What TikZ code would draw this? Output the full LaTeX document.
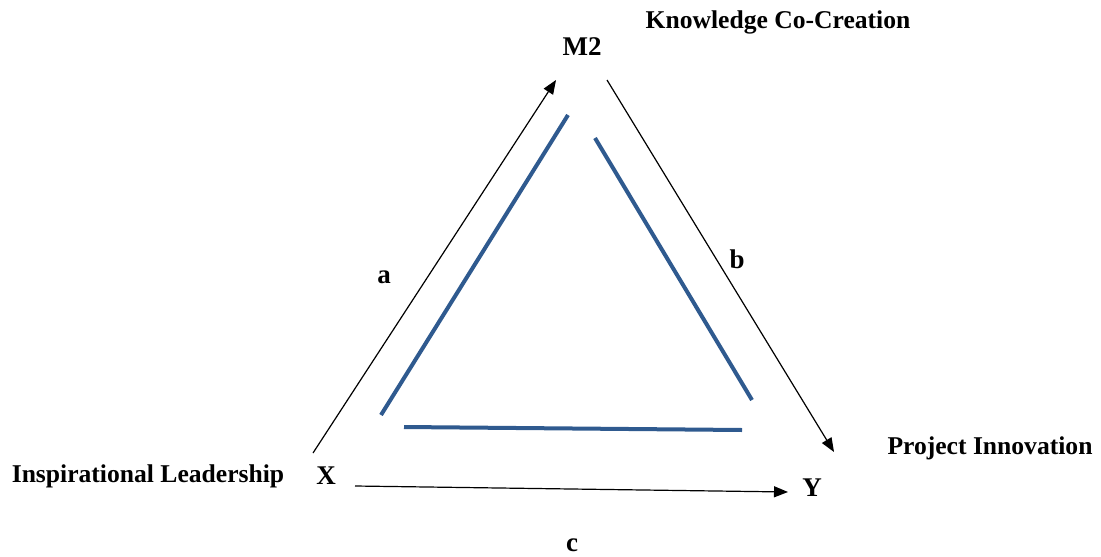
\documentclass[tikz,border=0pt]{standalone}
\usepackage{fontspec}
\setmainfont{Liberation Serif}
\usetikzlibrary{arrows.meta}
\definecolor{triBlue}{HTML}{2F5A8F}

\begin{document}
\begin{tikzpicture}[x=0.5pt, y=-0.5pt,
  lbl/.style={font=\bfseries\fontsize{12.8}{14}\selectfont, inner sep=0pt},
  var/.style={font=\bfseries\fontsize{13.5}{15}\selectfont, inner sep=0pt},
  arr/.style={-{Triangle[length=7pt, width=5.5pt]}, line width=0.6pt},
  side/.style={triBlue, line width=2pt}
]
\useasboundingbox (0,0) rectangle (1101,556);

% variables
\node[var] (m2) at (582,47) {M2};
\node[var] (x) at (326,476) {X};
\node[var] (y) at (812,488) {Y};

% construct names
\node[lbl] (kcc) at (778,22) {Knowledge Co-Creation};
\node[lbl] (il) at (148,476) {Inspirational Leadership};
\node[lbl] (pi) at (990,448) {Project Innovation};

% path labels
\node[var] (la) at (384,277) {a};
\node[var] (lb) at (737,259) {b};
\node[var] (lc) at (572,545) {c};

% arrow ends
\coordinate (a0) at (313,453);
\coordinate (a1) at (556,80);
\coordinate (b0) at (607,80);
\coordinate (b1) at (834,452);
\coordinate (c0) at (355,486);
\coordinate (c1) at (788,492);

\draw[arr] (a0) -- (a1);
\draw[arr] (b0) -- (b1);
\draw[arr] (c0) -- (c1);

% inner triangle
\draw[side] (381,415) -- (568,115);
\draw[side] (595,138) -- (752,400);
\draw[side] (404,427) -- (742,430);
\end{tikzpicture}
\end{document}
